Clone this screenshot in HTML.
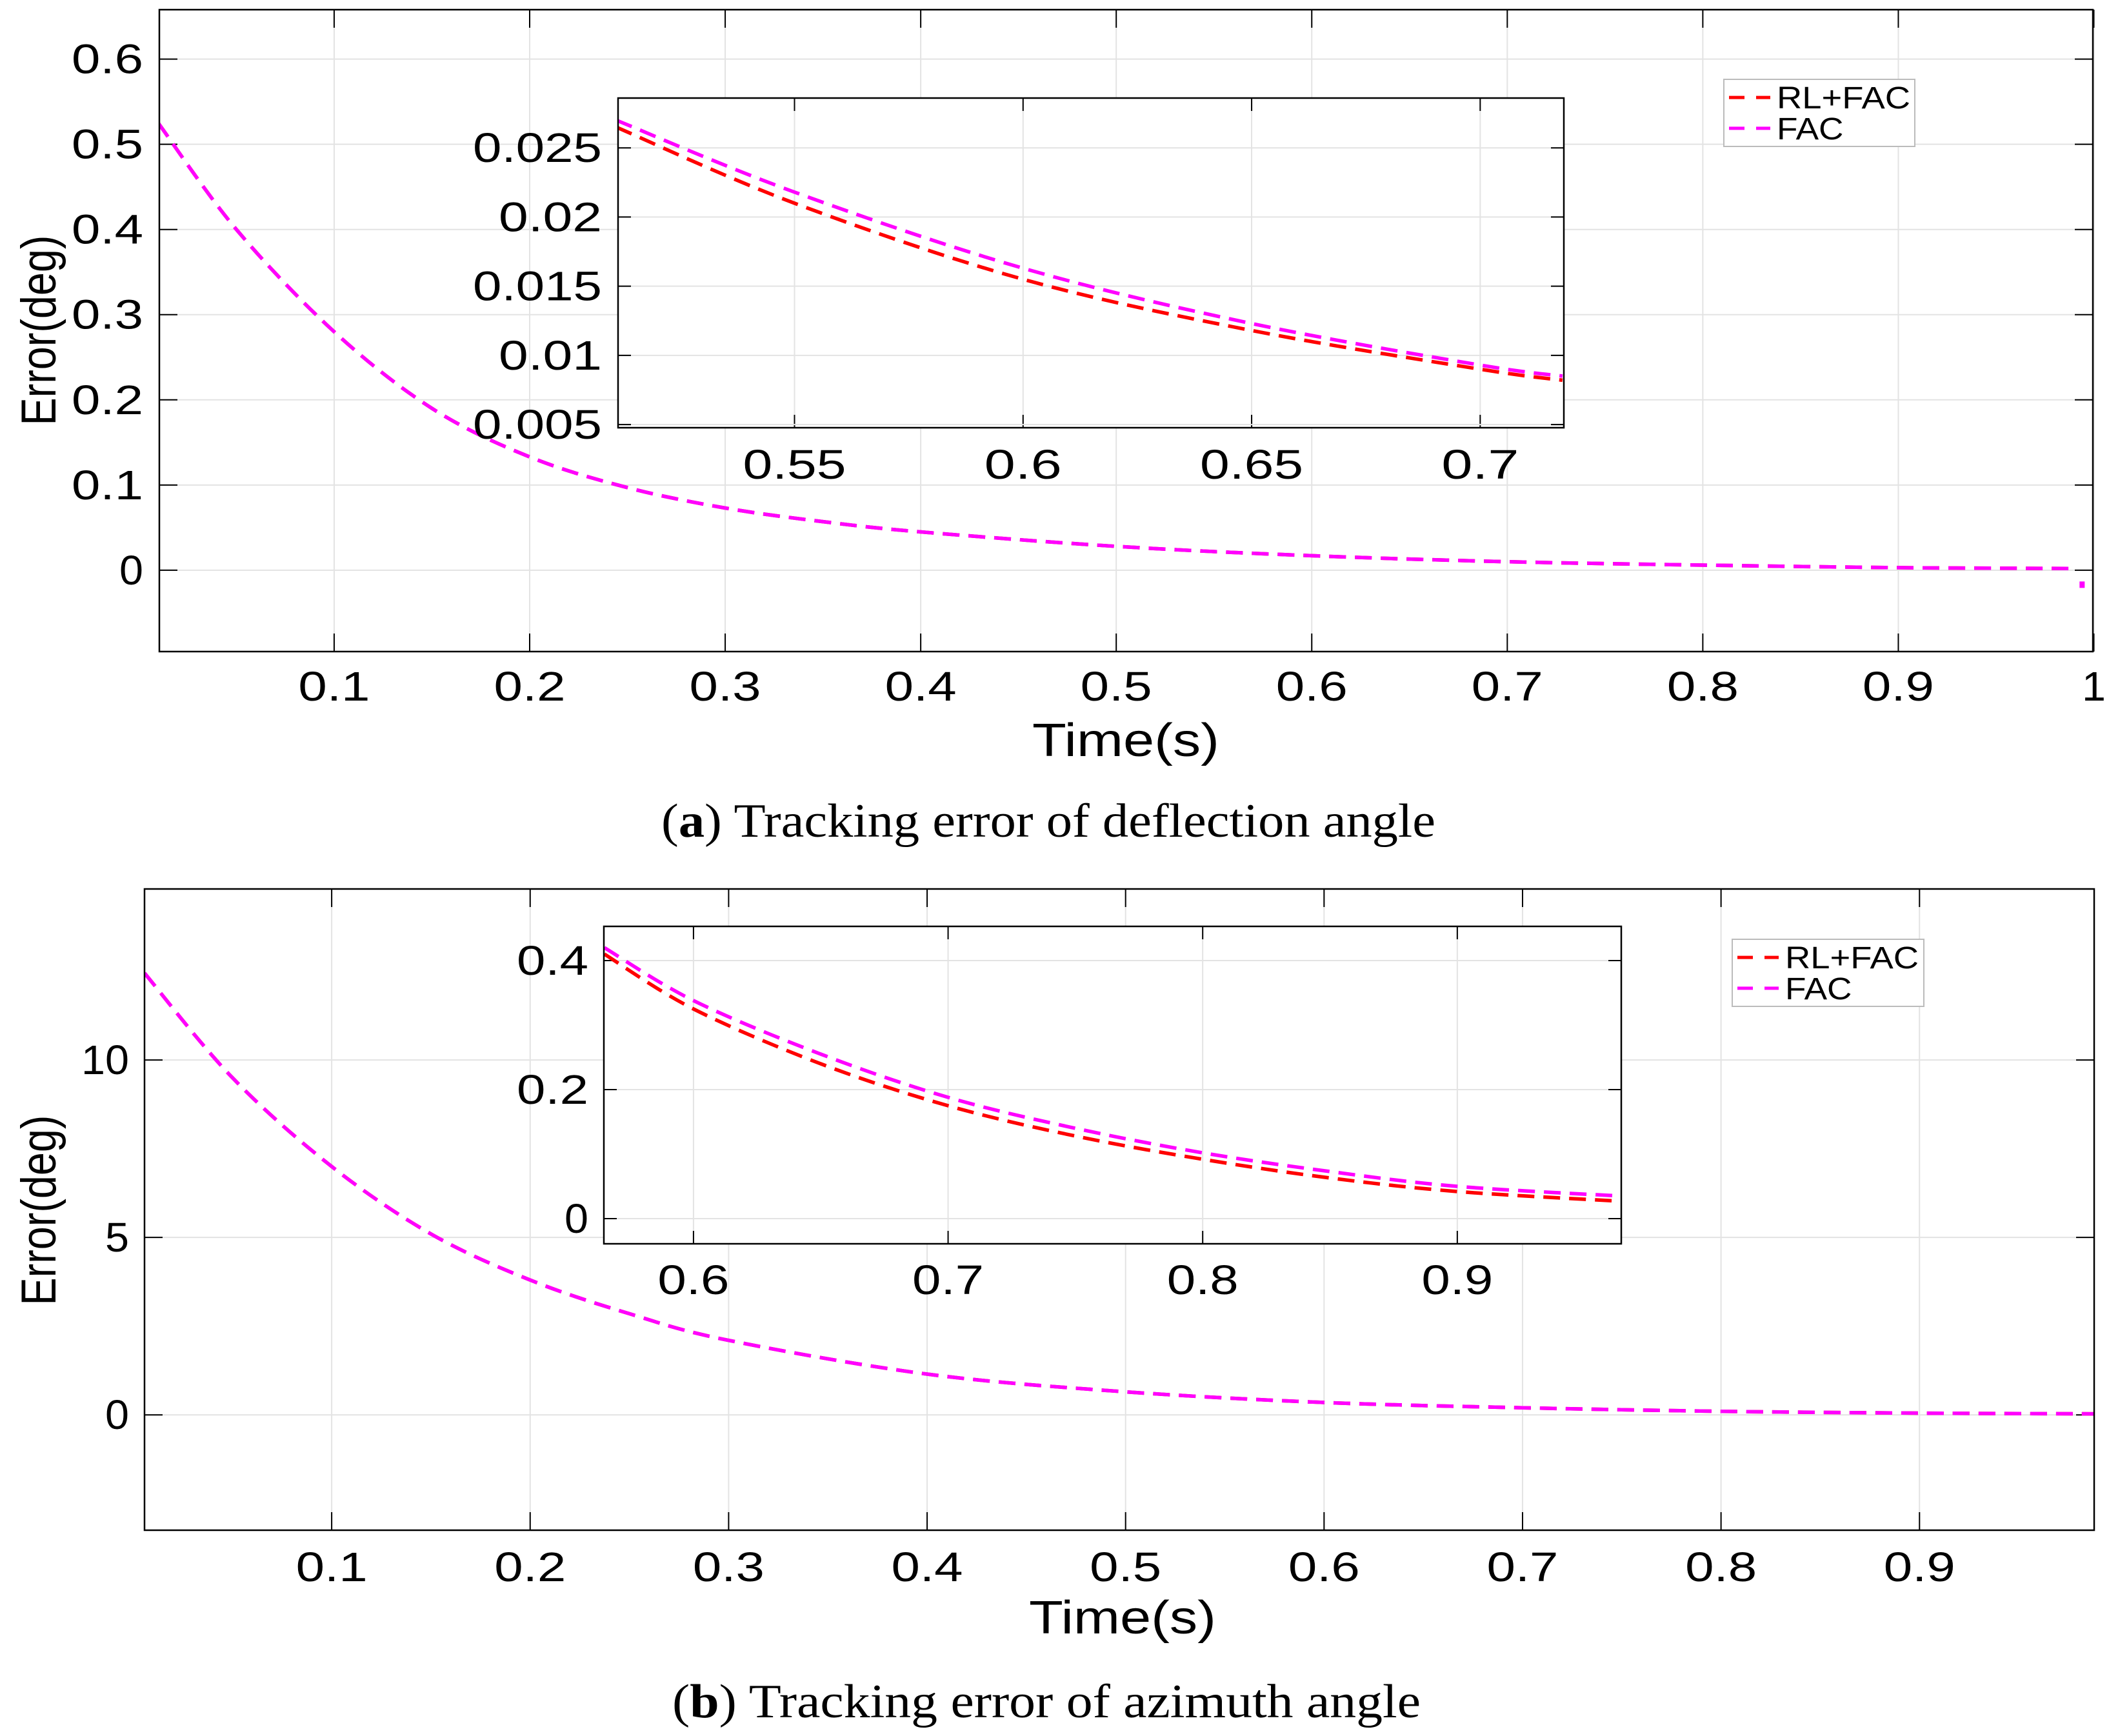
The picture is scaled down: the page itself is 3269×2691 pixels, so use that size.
<!DOCTYPE html>
<html><head><meta charset="utf-8"><style>
html,body{margin:0;padding:0;background:#fff;}
svg{display:block;}
text{font-family:"Liberation Sans",sans-serif;fill:#000;}
.cap{font-family:"Liberation Serif",serif;}
</style></head><body>
<svg id="fig" width="3269" height="2691" viewBox="0 0 3269 2691" xmlns="http://www.w3.org/2000/svg"></svg>
<script>
// ---- Panel (a) data ----
const aMainT = [0.01,0.05,0.1,0.15,0.2,0.25,0.3,0.35,0.4,0.5,0.6,0.7,0.8,0.9,0.99];
const aMainFAC = [0.525,0.40,0.28,0.19,0.133,0.097,0.073,0.057,0.045,0.028,0.017,0.010,0.006,0.003,0.002];
const aTailT = [0.994];
const aTailV = [-0.017];
const aInsetT = [0.511,0.55,0.6,0.65,0.7,0.718];
const aInsetRL = [0.0265,0.021,0.0155,0.0118,0.0090,0.0082];
const aInsetFAC = [0.0270,0.0218,0.0163,0.0123,0.0093,0.0085];
const aXTicks = [0.1,0.2,0.3,0.4,0.5,0.6,0.7,0.8,0.9,1];
const aXLabels = ["0.1","0.2","0.3","0.4","0.5","0.6","0.7","0.8","0.9","1"];
const aYTicks = [0,0.1,0.2,0.3,0.4,0.5,0.6];
const aYLabels = ["0","0.1","0.2","0.3","0.4","0.5","0.6"];
const aIXTicks = [0.55,0.6,0.65,0.7];
const aIXLabels = ["0.55","0.6","0.65","0.7"];
const aIYTicks = [0.005,0.01,0.015,0.02,0.025];
const aIYLabels = ["0.005","0.01","0.015","0.02","0.025"];
// ---- Panel (b) data ----
const bMainT = [0.0057,0.05,0.1,0.15,0.2,0.25,0.3,0.4,0.5,0.6,0.7,0.8,0.9,0.988];
const bMainFAC = [12.45,9.5,7.0,5.1,3.8,2.85,2.1,1.15,0.65,0.35,0.2,0.1,0.05,0.03];
const bInsetT = [0.565,0.6,0.65,0.7,0.75,0.8,0.85,0.9,0.964];
const bInsetRL = [0.41,0.325,0.24,0.175,0.128,0.092,0.063,0.042,0.027];
const bInsetFAC = [0.42,0.338,0.255,0.188,0.14,0.102,0.073,0.05,0.035];
const bXTicks = [0.1,0.2,0.3,0.4,0.5,0.6,0.7,0.8,0.9];
const bXLabels = ["0.1","0.2","0.3","0.4","0.5","0.6","0.7","0.8","0.9"];
const bYTicks = [0,5,10];
const bYLabels = ["0","5","10"];
const bIXTicks = [0.6,0.7,0.8,0.9];
const bIXLabels = ["0.6","0.7","0.8","0.9"];
const bIYTicks = [0,0.2,0.4];
const bIYLabels = ["0","0.2","0.4"];

const NS="http://www.w3.org/2000/svg";
const svg=document.getElementById('fig');
function mk(tag,attrs,parent){const e=document.createElementNS(NS,tag);for(const k in attrs)e.setAttribute(k,attrs[k]);(parent||svg).appendChild(e);return e;}
function txt(s,attrs,parent,len){const e=mk('text',attrs,parent);e.textContent=s;if(len){e.setAttribute('textLength',len);e.setAttribute('lengthAdjust','spacingAndGlyphs');}return e;}

function axes(g,box,xr,yr,xt,xl,yt,yl,opt){
  const sx=v=>box.x0+(v-xr[0])/(xr[1]-xr[0])*(box.x1-box.x0);
  const sy=v=>box.y1-(v-yr[0])/(yr[1]-yr[0])*(box.y1-box.y0);
  mk('rect',{x:box.x0,y:box.y0,width:box.x1-box.x0,height:box.y1-box.y0,fill:'#fff'},g);
  xt.forEach((v,i)=>{const x=sx(v);
    const gl=mk('line',{x1:x,x2:x,y1:box.y0,y2:box.y1,stroke:'#e3e3e3','stroke-width':2},g);
    
    mk('line',{x1:x,x2:x,y1:box.y1,y2:box.y1-opt.tl,stroke:'#000','stroke-width':2},g);
    mk('line',{x1:x,x2:x,y1:box.y0,y2:box.y0+opt.tl,stroke:'#000','stroke-width':2},g);
    const t=txt(xl[i],{x:x,y:opt.xly,'font-size':opt.fs,'text-anchor':'middle'},g,xl[i].length*opt.cw);
    
  });
  yt.forEach((v,i)=>{const y=sy(v);
    const gl=mk('line',{x1:box.x0,x2:box.x1,y1:y,y2:y,stroke:'#e3e3e3','stroke-width':2},g);
    
    mk('line',{x1:box.x0,x2:box.x0+opt.tl,y1:y,y2:y,stroke:'#000','stroke-width':2},g);
    mk('line',{x1:box.x1,x2:box.x1-opt.tl,y1:y,y2:y,stroke:'#000','stroke-width':2},g);
    const t=txt(yl[i],{x:opt.ylx,y:y+22,'font-size':opt.fs,'text-anchor':'end'},g,yl[i].length*opt.cw);
    
  });
  return {sx,sy};
}
function series(g,T,V,s,color,name,clip){
  const P=T.map((t,i)=>[s.sx(t),s.sy(V[i])]);
  let d='M'+P[0][0].toFixed(1)+','+P[0][1].toFixed(1);
  for(let i=0;i<P.length-1;i++){
    const p0=P[Math.max(0,i-1)],p1=P[i],p2=P[i+1],p3=P[Math.min(P.length-1,i+2)];
    const c1=[p1[0]+(p2[0]-p0[0])/6,p1[1]+(p2[1]-p0[1])/6];
    const c2=[p2[0]-(p3[0]-p1[0])/6,p2[1]-(p3[1]-p1[1])/6];
    d+=' C'+c1[0].toFixed(1)+','+c1[1].toFixed(1)+' '+c2[0].toFixed(1)+','+c2[1].toFixed(1)+' '+p2[0].toFixed(1)+','+p2[1].toFixed(1);
  }
  const p=mk('path',{d:d,fill:'none',stroke:color,'stroke-width':5.5,'stroke-dasharray':'26 14'},g);
  if(clip)p.setAttribute('clip-path','url(#'+clip+')');
  
  
  return p;
}
function frame(g,box){mk('rect',{x:box.x0,y:box.y0,width:box.x1-box.x0,height:box.y1-box.y0,fill:'none',stroke:'#000','stroke-width':2.5},g);}
function legend(g,x0,y0,x1,y1){
  const r=mk('rect',{x:x0,y:y0,width:x1-x0,height:y1-y0,fill:'#fff',stroke:'#bbb','stroke-width':2},g);
  
  const items=[['RL+FAC','#ff0000'],['FAC','#ff00ff']];
  items.forEach((it,i)=>{const cy=y0+(y1-y0)*(i===0?0.27:0.73);
    mk('line',{x1:x0+8,x2:x0+72,y1:cy,y2:cy,stroke:it[1],'stroke-width':5,'stroke-dasharray':'24 18'},g);
    const t=txt(it[0],{x:x0+82,y:cy+17,'font-size':48},g,it[0].length*34.5);
    
    
  });
}
const defs=mk('defs',{});
function clipRect(id,b){const c=mk('clipPath',{id:id},defs);mk('rect',{x:b.x0,y:b.y0,width:b.x1-b.x0,height:b.y1-b.y0},c);}

// ===== Panel (a) =====
const ga=mk('g',{});
const aBox={x0:247,y0:15,x1:3244,y1:1010};
clipRect('ca',aBox);
const sa=axes(ga,aBox,[0.0106,0.9995],[-0.0955,0.658],aXTicks,aXLabels,aYTicks,aYLabels,{tl:28,fs:64,cw:37,xly:1086,ylx:222});
series(ga,aMainT,aMainFAC,sa,'#ff0000','series-rl-fac-main','ca');
series(ga,aMainT,aMainFAC,sa,'#ff00ff','series-fac-main','ca');
aTailT.forEach((t,i)=>{const m=mk('rect',{x:sa.sx(t)-4,y:sa.sy(aTailV[i])-5,width:8,height:10,fill:'#ff00ff'},ga);
  });
frame(ga,aBox);
const aIBox={x0:958,y0:152,x1:2424,y1:663};
clipRect('cai',aIBox);
const gai=mk('g',{},ga);
const sai=axes(gai,aIBox,[0.5114,0.7183],[0.00477,0.0286],aIXTicks,aIXLabels,aIYTicks,aIYLabels,{tl:20,fs:64,cw:40,xly:742,ylx:933});
series(gai,aInsetT,aInsetRL,sai,'#ff0000','inset-a-rl-fac','cai');
series(gai,aInsetT,aInsetFAC,sai,'#ff00ff','inset-a-fac','cai');
frame(gai,aIBox);
legend(ga,2672,123,2968,227);
let t;
t=txt('Time(s)',{x:1745,y:1172,'font-size':72,'text-anchor':'middle'},ga,290);
t=txt('Error(deg)',{x:0,y:0,'font-size':76,'text-anchor':'middle',transform:'translate(86,512) rotate(-90)'},ga,295);
t=mk('text',{x:1625,y:1297,'font-size':74,'text-anchor':'middle',class:'cap',textLength:1200,lengthAdjust:'spacingAndGlyphs'},ga);
t.innerHTML='(<tspan font-weight="bold">a</tspan>) Tracking error of deflection angle';


// ===== Panel (b) =====
const gb=mk('g',{});
const bBox={x0:224,y0:1378,x1:3246,y1:2372};
clipRect('cb',bBox);
const sb=axes(gb,bBox,[0.0057,0.988],[-3.25,14.82],bXTicks,bXLabels,bYTicks,bYLabels,{tl:28,fs:64,cw:37,xly:2451,ylx:200});
series(gb,bMainT,bMainFAC,sb,'#ff0000','series-rl-fac-main-b','cb');
series(gb,bMainT,bMainFAC,sb,'#ff00ff','series-fac-main-b','cb');
frame(gb,bBox);
const bIBox={x0:936,y0:1436,x1:2513,y1:1928};
clipRect('cbi',bIBox);
const gbi=mk('g',{},gb);
const sbi=axes(gbi,bIBox,[0.5648,0.9644],[-0.039,0.453],bIXTicks,bIXLabels,bIYTicks,bIYLabels,{tl:20,fs:64,cw:37,xly:2006,ylx:912});
series(gbi,bInsetT,bInsetRL,sbi,'#ff0000','inset-b-rl-fac','cbi');
series(gbi,bInsetT,bInsetFAC,sbi,'#ff00ff','inset-b-fac','cbi');
frame(gbi,bIBox);
legend(gb,2685,1456,2982,1560);
t=txt('Time(s)',{x:1740,y:2532,'font-size':72,'text-anchor':'middle'},gb,290);
t=txt('Error(deg)',{x:0,y:0,'font-size':76,'text-anchor':'middle',transform:'translate(86,1876) rotate(-90)'},gb,295);
t=mk('text',{x:1622,y:2662,'font-size':74,'text-anchor':'middle',class:'cap',textLength:1160,lengthAdjust:'spacingAndGlyphs'},gb);
t.innerHTML='(<tspan font-weight="bold">b</tspan>) Tracking error of azimuth angle';

</script>
</body></html>
